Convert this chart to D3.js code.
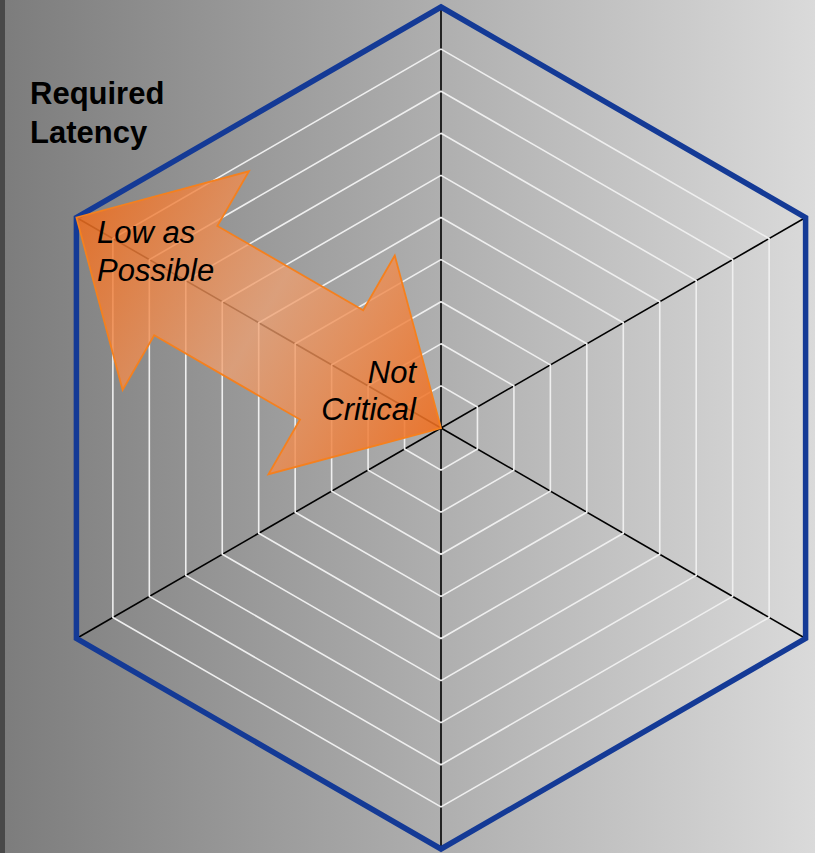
<!DOCTYPE html>
<html>
<head>
<meta charset="utf-8">
<script src="https://cdn.jsdelivr.net/npm/d3@7"></script>
<style>
  html, body { margin: 0; padding: 0; overflow: hidden; }
  svg { display: block; }
</style>
</head>
<body>
<div id="chart"></div>
<script>
// Radar frame: six axes, ten rings
var axisNames = ["", "", "", "", "", "Required Latency"];
var levels = [1, 2, 3, 4, 5, 6, 7, 8, 9, 10];
var maxLevel = 10;

// Arrow annotation on the "Required Latency" axis (values in level units)
var arrowAxis = 5;
var arrowFrom = 10;
var arrowTo = 0;
var arrowHead = 3;      // head length
var arrowBarb = 3;      // half width at barbs
var arrowShaft = 1.5;   // half width of shaft
var arrowLabels = [["Low as", "Possible"], ["Not", "Critical"]];

var width = 815;
var height = 853;
var cx = 441, cy = 428;
var radius = 421;

var svg = d3.select("#chart")
    .append("svg")
    .attr("width", width)
    .attr("height", height);

var defs = svg.append("defs");

var bg = defs.append("linearGradient")
    .attr("id", "bg")
    .attr("x1", "0").attr("y1", "0").attr("x2", "1").attr("y2", "0");
bg.append("stop").attr("offset", "0").attr("stop-color", "#7c7c7c");
bg.append("stop").attr("offset", "1").attr("stop-color", "#dadada");

svg.append("rect")
    .attr("width", width)
    .attr("height", height)
    .attr("fill", "url(#bg)");

svg.append("rect")
    .attr("width", 5)
    .attr("height", height)
    .attr("fill", "#494949");

var r = d3.scaleLinear().domain([0, maxLevel]).range([0, radius]);

function angle(i) {
    return -Math.PI / 2 + i * 2 * Math.PI / axisNames.length;
}

function point(i, v) {
    return [cx + r(v) * Math.cos(angle(i)), cy + r(v) * Math.sin(angle(i))];
}

var g = svg.append("g");

// axes
g.selectAll(".axis")
    .data(axisNames)
    .enter()
    .append("line")
    .attr("class", "axis")
    .attr("x1", cx)
    .attr("y1", cy)
    .attr("x2", function (d, i) { return point(i, maxLevel)[0]; })
    .attr("y2", function (d, i) { return point(i, maxLevel)[1]; })
    .attr("stroke", "#000")
    .attr("stroke-width", 1.6);

var ringLine = d3.line().curve(d3.curveLinearClosed);

// rings (drawn over the axes, as in the original)
g.selectAll(".ring")
    .data(levels.filter(function (l) { return l < maxLevel; }))
    .enter()
    .append("path")
    .attr("class", "ring")
    .attr("d", function (l) {
        return ringLine(axisNames.map(function (d, i) { return point(i, l); }));
    })
    .attr("fill", "none")
    .attr("stroke", "#efefef")
    .attr("stroke-width", 1.6);

g.append("path")
    .attr("d", ringLine(axisNames.map(function (d, i) { return point(i, maxLevel); })))
    .attr("fill", "none")
    .attr("stroke", "#143a96")
    .attr("stroke-width", 5.5)
    .attr("stroke-linejoin", "miter");

// double arrow, built in (along, across) coordinates of the axis
var a = angle(arrowAxis);
var ux = Math.cos(a), uy = Math.sin(a);
var nx = -uy, ny = ux;
function local(along, across) {
    return [cx + r(along) * ux + r(across) * nx, cy + r(along) * uy + r(across) * ny];
}
var arrowPts = [
    [arrowFrom, 0],
    [arrowFrom - arrowHead, arrowBarb],
    [arrowFrom - arrowHead, arrowShaft],
    [arrowTo + arrowHead, arrowShaft],
    [arrowTo + arrowHead, arrowBarb],
    [arrowTo, 0],
    [arrowTo + arrowHead, -arrowBarb],
    [arrowTo + arrowHead, -arrowShaft],
    [arrowFrom - arrowHead, -arrowShaft],
    [arrowFrom - arrowHead, -arrowBarb]
].map(function (p) { return local(p[0], p[1]); });

var p0 = local(arrowFrom, 0), p1 = local(arrowTo, 0);
var ag = defs.append("linearGradient")
    .attr("id", "arrowFill")
    .attr("gradientUnits", "userSpaceOnUse")
    .attr("x1", p0[0]).attr("y1", p0[1])
    .attr("x2", p1[0]).attr("y2", p1[1]);
ag.append("stop").attr("offset", "0").attr("stop-color", "#f06e1e").attr("stop-opacity", 0.85);
ag.append("stop").attr("offset", "0.5").attr("stop-color", "#f0a070").attr("stop-opacity", 0.75);
ag.append("stop").attr("offset", "1").attr("stop-color", "#f06e1e").attr("stop-opacity", 0.88);

svg.append("path")
    .attr("d", d3.line()(arrowPts) + "Z")
    .attr("fill", "url(#arrowFill)")
    .attr("stroke", "#f5801e")
    .attr("stroke-width", 1.8)
    .attr("stroke-linejoin", "miter");

// labels
var font = "'Liberation Sans', Arial, sans-serif";

var title = svg.append("text")
    .attr("x", 30)
    .attr("y", 104)
    .attr("font-family", font)
    .attr("font-weight", "bold")
    .attr("font-size", 31)
    .attr("fill", "#000");
axisNames[arrowAxis].split(" ").forEach(function (w, i) {
    title.append("tspan").attr("x", 30).attr("dy", i === 0 ? 0 : 39).text(w);
});

var lowText = svg.append("text")
    .attr("x", 97)
    .attr("y", 243)
    .attr("font-family", font)
    .attr("font-style", "italic")
    .attr("font-size", 31)
    .attr("fill", "#000");
arrowLabels[0].forEach(function (w, i) {
    lowText.append("tspan").attr("x", 97).attr("dy", i === 0 ? 0 : 38).text(w);
});

var highText = svg.append("text")
    .attr("x", 416)
    .attr("y", 383)
    .attr("text-anchor", "end")
    .attr("font-family", font)
    .attr("font-style", "italic")
    .attr("font-size", 31)
    .attr("fill", "#000");
arrowLabels[1].forEach(function (w, i) {
    highText.append("tspan").attr("x", 416).attr("dy", i === 0 ? 0 : 37).text(w);
});
</script>
</body>
</html>
